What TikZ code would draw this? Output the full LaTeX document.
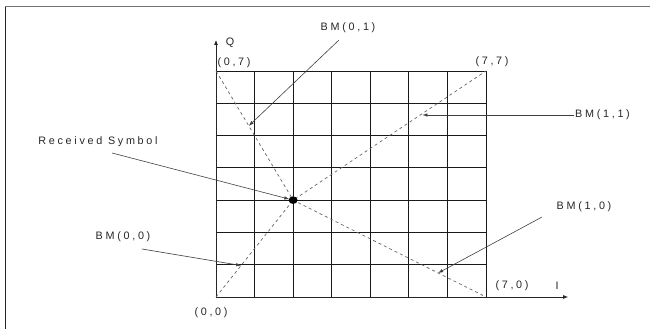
\documentclass[tikz,border=0pt]{standalone}
\usepackage{fontspec}
\newfontfamily\lblfont{Liberation Sans}[LetterSpace=25]
\usetikzlibrary{arrows.meta,calc,positioning}
\tikzset{
  frameln/.style={line width=1pt},
  gridln/.style={draw=black!90, line width=0.9pt},
  axis/.style={-{Latex[length=5pt,width=4pt]}, line width=0.8pt, draw=black!85},
  diag/.style={draw=black!60, dash pattern=on 3pt off 3pt, line width=0.7pt},
  callout/.style={-{Latex[length=5pt,width=3.5pt]}, line width=0.6pt, draw=black!75},
  lbl/.style={font=\lblfont\fontsize{10.8}{13}\selectfont, text=black!85, inner sep=1pt},
}
\begin{document}
\begin{tikzpicture}[x=1pt,y=1pt]
\useasboundingbox (0,0) rectangle (650,329);
\draw[frameln, draw=black!55] (5,322) -- (650,322);
\draw[frameln, draw=black!85] (5,322) -- (5,0);

\begin{scope}[shift={(216pt,32pt)}, x=38.57pt, y=32.29pt]
  \foreach \i in {0,...,7} {
    \draw[gridln] (\i,0) -- (\i,7);
    \draw[gridln] (0,\i) -- (7,\i);
  }
  \coordinate (org) at (0,0);
  \coordinate (qtip) at (0,7.96);
  \coordinate (itip) at (9.13,0);
  \coordinate (c07) at (0,7);
  \coordinate (c77) at (7,7);
  \coordinate (c70) at (7,0);
  \coordinate (rx) at (2,3);
  \coordinate (t01) at (0.85,5.3);
  \coordinate (t11) at (5.35,5.68);
  \coordinate (t00) at (0.65,0.975);
  \coordinate (t10) at (5.76,0.744);
\end{scope}

\draw[axis] (org) -- (qtip);
\draw[axis] (org) -- (itip);
\draw[diag] (org) -- (rx) -- (c77);
\draw[diag] (c07) -- (rx) -- (c70);
\fill[black] (rx) ellipse (4.5pt and 3.8pt);

\node[lbl] (qlab) at (230,286) {Q};
\node[lbl] (ilab) at (557,43) {I};
\node[lbl] (l07) at (234,266) {(0,7)};
\node[lbl] (l77) at (492,267) {(7,7)};
\node[lbl] (l00) at (211,16) {(0,0)};
\node[lbl] (l70) at (512,43) {(7,0)};

\node[lbl] (bm01) at (348,301) {BM(0,1)};
\node[lbl, anchor=west] (bm11) at (574,214) {BM(1,1)};
\node[lbl] (recv) at (98,187) {Received Symbol};
\node[lbl] (bm00) at (123,92) {BM(0,0)};
\node[lbl] (bm10) at (584,122) {BM(1,0)};

\coordinate (tl01) at (339,289);
\coordinate (tlrecv) at (112,176);
\coordinate (tl00) at (142,80);
\coordinate (tl10) at (542,112);

\draw[callout] (tl01) -- (t01);
\draw[callout] (bm11.west) -- (bm11.west -| t11);
\draw[callout, shorten >=4pt] (tlrecv) -- (rx);
\draw[callout] (tl00) -- (t00);
\draw[callout] (tl10) -- (t10);
\end{tikzpicture}
\end{document}
